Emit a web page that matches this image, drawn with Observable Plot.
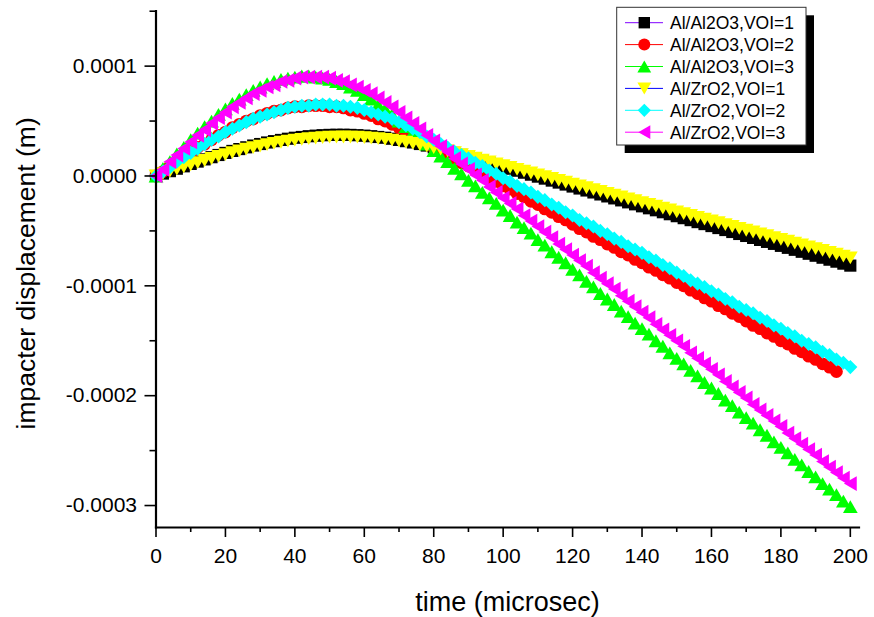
<!DOCTYPE html>
<html>
<head>
<meta charset="utf-8">
<script src="https://cdn.jsdelivr.net/npm/d3@7"></script>
<script src="https://cdn.jsdelivr.net/npm/@observablehq/plot@0.6"></script>
<style>
  html, body { margin: 0; padding: 0; background: #fff; }
  svg { display: block; }
</style>
</head>
<body>
<script>
// ---------- data (displacement in micrometres, time in microseconds) ----------
const time = [0,2,4,6,8,10,12,14,16,18,20,22,24,26,28,30,32,34,36,38,40,42,44,46,48,50,52,54,56,58,60,62,64,66,68,70,72,74,76,78,80,82,84,86,88,90,92,94,96,98,100,102,104,106,108,110,112,114,116,118,120,122,124,126,128,130,132,134,136,138,140,142,144,146,148,150,152,154,156,158,160,162,164,166,168,170,172,174,176,178,180,182,184,186,188,190,192,194,196,198,200];

const al2o3_voi1 = [0, 2.2, 4.4, 6.6, 8.8, 11.0, 13.1, 15.1, 17.1, 19.1,
 21.0, 22.8, 24.5, 26.1, 27.7, 29.1, 30.5, 31.7, 32.8, 33.9,
 34.8, 35.5, 36.2, 36.7, 37.1, 37.4, 37.5, 37.5, 37.4, 37.1,
 36.7, 36.2, 35.5, 34.8, 33.9, 32.8, 31.7, 30.5, 29.1, 27.7,
 26.1, 24.5, 22.8, 21.0, 19.2, 17.4, 15.6, 13.8, 12.0, 10.2,
 8.4, 6.6, 4.8, 3.0, 1.2, -0.6, -2.4, -4.2, -6.0, -7.8,
 -9.6, -11.4, -13.2, -15.0, -16.8, -18.6, -20.4, -22.2, -24.0, -25.8,
 -27.6, -29.4, -31.2, -33.0, -34.8, -36.6, -38.4, -40.2, -42.0, -43.8,
 -45.6, -47.4, -49.2, -51.0, -52.8, -54.6, -56.4, -58.2, -60.0, -61.8,
 -63.6, -65.4, -67.2, -69.0, -70.8, -72.6, -74.4, -76.2, -78.0, -79.8,
 -81.6];

const al2o3_voi2 = [0, 4, 9, 13, 17, 21, 26, 29, 33, 37,
 40, 44, 47, 50, 52, 55, 57, 59, 60, 62,
 63, 63, 64, 64, 64, 63, 63, 62, 60, 59,
 57, 55, 52, 50, 47, 44, 40, 37, 33, 30,
 26, 23, 19, 16, 12, 9, 5, 2, -2, -5,
 -9, -12, -16, -19, -23, -26, -30, -33, -37, -40,
 -44, -48, -51, -55, -58, -62, -65, -69, -72, -76,
 -79, -83, -86, -90, -93, -97, -100, -104, -107, -111,
 -114, -118, -121, -125, -128, -132, -136, -139, -143, -146,
 -150, -153, -157, -160, -164, -167, -171, -174, -178];

const al2o3_voi3 = [0, 7, 13, 20, 26, 33, 39, 45, 50, 56,
 61, 66, 70, 74, 78, 81, 84, 86, 88, 89,
 90, 91, 91, 90, 89, 88, 86, 84, 81, 78,
 74, 70, 65, 61, 56, 50, 45, 40, 34, 29,
 23, 18, 13, 7, 2, -4, -9, -15, -20, -25,
 -31, -36, -42, -47, -52, -58, -63, -69, -74, -79,
 -85, -90, -96, -101, -107, -112, -117, -123, -128, -134,
 -139, -144, -150, -155, -161, -166, -171, -177, -182, -188,
 -193, -198, -204, -209, -215, -220, -225, -231, -236, -242,
 -247, -252, -258, -263, -269, -274, -280, -285, -290, -296,
 -301];

const zro2_voi1 = [0, 2.1, 4.1, 6.2, 8.2, 10.2, 12.1, 14.1, 15.9, 17.8,
 19.5, 21.2, 22.8, 24.4, 25.8, 27.2, 28.5, 29.7, 30.7, 31.7,
 32.6, 33.4, 34.0, 34.5, 35.0, 35.3, 35.4, 35.5, 35.4, 35.3,
 35.0, 34.5, 34.0, 33.4, 32.6, 31.7, 30.7, 29.7, 28.5, 27.2,
 25.8, 24.4, 22.8, 21.2, 19.5, 17.8, 16.2, 14.5, 12.8, 11.1,
 9.4, 7.8, 6.1, 4.4, 2.7, 1.0, -0.6, -2.3, -4.0, -5.7,
 -7.4, -9.0, -10.7, -12.4, -14.1, -15.8, -17.4, -19.1, -20.8, -22.5,
 -24.2, -25.8, -27.5, -29.2, -30.9, -32.6, -34.2, -35.9, -37.6, -39.3,
 -41.0, -42.6, -44.3, -46.0, -47.7, -49.4, -51.0, -52.7, -54.4, -56.1,
 -57.8, -59.4, -61.1, -62.8, -64.5, -66.2, -67.8, -69.5, -71.2, -72.9,
 -74.6];

const zro2_voi2 = [0, 4, 8, 13, 17, 21, 25, 29, 33, 36,
 40, 43, 46, 49, 52, 54, 56, 58, 60, 62,
 63, 64, 64, 65, 65, 65, 64, 64, 63, 62,
 60, 58, 56, 54, 52, 49, 46, 43, 40, 36,
 33, 29, 26, 22, 19, 16, 12, 9, 5, 2,
 -2, -5, -9, -12, -15, -19, -22, -26, -29, -33,
 -36, -40, -43, -46, -50, -53, -57, -60, -64, -67,
 -70, -74, -77, -81, -84, -88, -91, -95, -98, -101,
 -105, -108, -112, -115, -119, -122, -125, -129, -132, -136,
 -139, -143, -146, -150, -153, -156, -160, -163, -167, -170,
 -174];

const zro2_voi3 = [0, 6, 13, 19, 25, 31, 37, 42, 48, 53,
 58, 63, 67, 71, 75, 78, 81, 83, 86, 87,
 89, 90, 90, 90, 90, 89, 87, 86, 83, 81,
 78, 75, 71, 67, 63, 58, 53, 48, 43, 37,
 32, 27, 22, 16, 11, 6, 1, -4, -10, -15,
 -20, -25, -30, -36, -41, -46, -51, -56, -62, -67,
 -72, -77, -82, -88, -93, -98, -103, -109, -114, -119,
 -124, -129, -135, -140, -145, -150, -155, -161, -166, -171,
 -176, -181, -187, -192, -197, -202, -208, -213, -218, -223,
 -228, -234, -239, -244, -249, -254, -260, -265, -270, -275,
 -280];

const seriesNames = ["Al/Al2O3,VOI=1", "Al/Al2O3,VOI=2", "Al/Al2O3,VOI=3", "Al/ZrO2,VOI=1", "Al/ZrO2,VOI=2", "Al/ZrO2,VOI=3"];
const seriesValues = [al2o3_voi1, al2o3_voi2, al2o3_voi3, zro2_voi1, zro2_voi2, zro2_voi3];

const xMajorTicks = [0, 20, 40, 60, 80, 100, 120, 140, 160, 180, 200];
const xMinorTicks = [10, 30, 50, 70, 90, 110, 130, 150, 170, 190];
const yMajorTicks = [0.0001, 0, -0.0001, -0.0002, -0.0003];
const yMinorTicks = [0.00015, 0.00005, -0.00005, -0.00015, -0.00025];

const xTitle = "time (microsec)";
const yTitle = "impacter displacement (m)";

// ---------- styles ----------
const lineColors = ["#8000ff", "#ff0000", "#00ff00", "#0000ff", "#00ffff", "#ff00ff"];
const markerColors = ["#000000", "#ff0000", "#00ff00", "#ffff00", "#00ffff", "#ff00ff"];

const rad = s => Math.sqrt(s / Math.PI);
const symSquare = {draw(c, s) { const r = rad(s) * 0.95; c.moveTo(-r, -r); c.lineTo(r, -r); c.lineTo(r, r); c.lineTo(-r, r); c.closePath(); }};
const symCircle = {draw(c, s) { const r = rad(s); c.moveTo(r, 0); c.arc(0, 0, r, 0, 2 * Math.PI); c.closePath(); }};
const symUp = {draw(c, s) { const r = rad(s); c.moveTo(0, -r); c.lineTo(1.15 * r, r); c.lineTo(-1.15 * r, r); c.closePath(); }};
const symDown = {draw(c, s) { const r = rad(s); c.moveTo(0, r); c.lineTo(1.15 * r, -r); c.lineTo(-1.15 * r, -r); c.closePath(); }};
const symDiamond = {draw(c, s) { const r = rad(s) * 1.1; c.moveTo(0, -r); c.lineTo(r, 0); c.lineTo(0, r); c.lineTo(-r, 0); c.closePath(); }};
const symLeft = {draw(c, s) { const r = rad(s); c.moveTo(-r, 0); c.lineTo(r, -1.15 * r); c.lineTo(r, 1.15 * r); c.closePath(); }};
const symbols = [symSquare, symCircle, symUp, symDown, symDiamond, symLeft];

const FONT = "'Liberation Sans', Arial, Helvetica, sans-serif";
const MARKER_R = 6.4;

// ---------- build table ----------
const tables = seriesValues.map((vals, i) =>
  vals.map((v, j) => ({t: time[j], d: v * 1e-6, series: seriesNames[i]}))
);

const seriesMarks = [];
tables.forEach((rows, i) => {
  seriesMarks.push(Plot.line(rows, {x: "t", y: "d", stroke: lineColors[i], strokeWidth: 1}));
  seriesMarks.push(Plot.dot(rows, {x: "t", y: "d", symbol: symbols[i], r: MARKER_R, fill: markerColors[i], stroke: "none"}));
});

const plot = Plot.plot({
  width: 874,
  height: 617,
  marginLeft: 155.5,
  marginRight: 15.5,
  marginTop: 10.7,
  marginBottom: 90,
  style: {fontFamily: FONT, background: "#fff", color: "#000", overflow: "visible"},
  x: {domain: [0, 202.5], axis: null},
  y: {domain: [-0.00032, 0.00015], axis: null},
  marks: [
    ...seriesMarks,
    Plot.axisX(xMajorTicks, {tickSize: 10, tickPadding: 11, fontSize: 21, strokeWidth: 1.6, label: null, tickFormat: d => String(d)}),
    Plot.axisX(xMinorTicks, {tickSize: 5, strokeWidth: 1.6, label: null, tickFormat: () => ""}),
    Plot.axisY(yMajorTicks, {tickSize: 11, tickPadding: 8, fontSize: 21, strokeWidth: 1.6, label: null, tickFormat: d => d.toFixed(4)}),
    Plot.axisY(yMinorTicks, {tickSize: 6, strokeWidth: 1.6, label: null, tickFormat: () => ""}),
    Plot.frame({anchor: "bottom", strokeWidth: 2.2}),
    Plot.frame({anchor: "left", strokeWidth: 2.2}),
    Plot.text([xTitle], {text: d => d, frameAnchor: "bottom", dy: 83, lineAnchor: "bottom", fontSize: 27}),
    Plot.text([yTitle], {text: d => d, frameAnchor: "left", dx: -121, dy: 4, rotate: -90, lineAnchor: "bottom", textAnchor: "middle", fontSize: 26.5})
  ]
});

// ---------- legend (inside the SVG, top-right) ----------
const svg = d3.select(plot);
const lg = svg.append("g").attr("font-family", FONT).attr("text-anchor", "start");
lg.append("rect").attr("x", 624.7).attr("y", 15.3).attr("width", 189.3).attr("height", 137.7).attr("fill", "#000");
lg.append("rect").attr("x", 616.7).attr("y", 7.3).attr("width", 189.3).attr("height", 137.7)
  .attr("fill", "#fff").attr("stroke", "#333").attr("stroke-width", 1);
seriesNames.forEach((name, i) => {
  const cy = 22.7 + i * 21.9;
  lg.append("line").attr("x1", 625).attr("x2", 663).attr("y1", cy).attr("y2", cy)
    .attr("stroke", lineColors[i]).attr("stroke-width", 1);
  lg.append("path").attr("d", d3.symbol(symbols[i], Math.PI * 36)())
    .attr("transform", `translate(644.3,${cy})`).attr("fill", markerColors[i]);
  lg.append("text").attr("x", 670).attr("y", cy + 6.4).attr("font-size", 17.5)
    .attr("text-anchor", "start").attr("fill", "#000").text(name);
});

document.body.appendChild(plot);
</script>
</body>
</html>
